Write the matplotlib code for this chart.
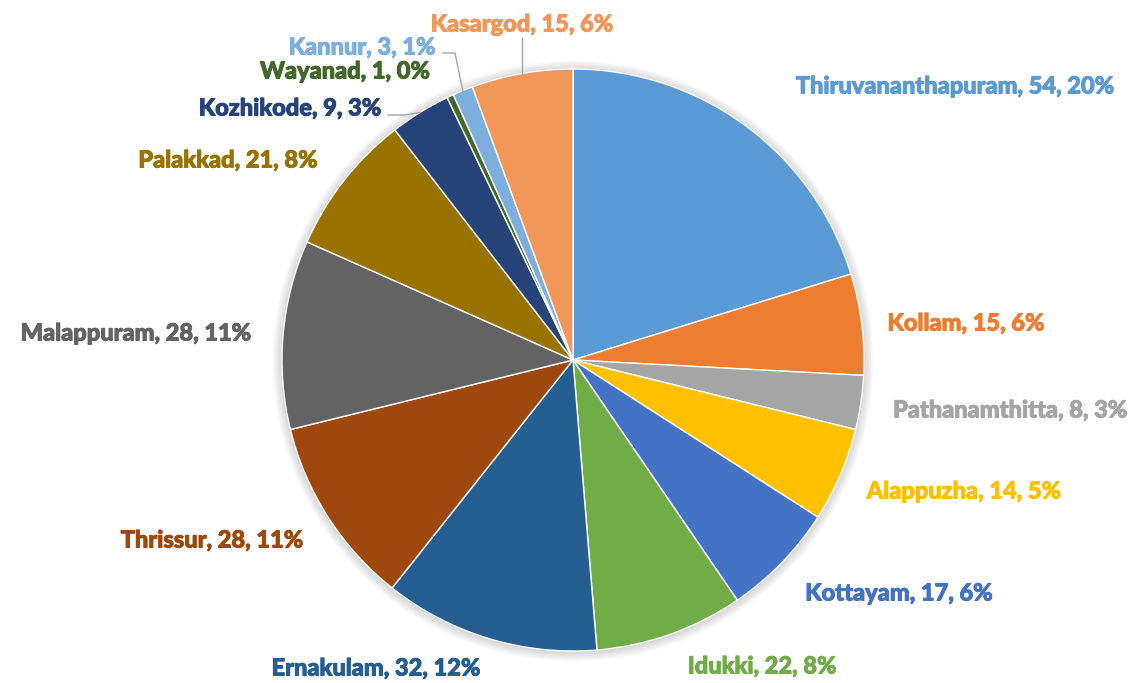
import numpy as np
import matplotlib.pyplot as plt
import matplotlib.patheffects as pe
from matplotlib.patches import Circle

districts = ["Thiruvananthapuram", "Kollam", "Pathanamthitta", "Alappuzha", "Kottayam",
             "Idukki", "Ernakulam", "Thrissur", "Malappuram", "Palakkad",
             "Kozhikode", "Wayanad", "Kannur", "Kasargod"]
counts = [54, 15, 8, 14, 17, 22, 32, 28, 28, 21, 9, 1, 3, 15]
pct_labels = ["20%", "6%", "3%", "5%", "6%", "8%", "12%", "11%", "11%", "8%",
              "3%", "0%", "1%", "6%"]
colors = ["#5B9BD5", "#ED7D31", "#A5A5A5", "#FFC000", "#4472C4",
          "#70AD47", "#255E91", "#9E480E", "#636363", "#997300",
          "#264478", "#43682B", "#7CAFDD", "#F1975A"]

# label centres in pixels (from top-left of the image)
label_pos = [(955, 86), (966, 323), (1010, 410), (964, 491), (899, 593),
             (762, 666), (376, 668), (212, 540), (136, 333), (228, 160),
             (290, 108), (345, 71), (362, 47), (522, 24)]

W, H = 1136, 683
cx, cy, R = 573, H - 360, 291

fig = plt.figure(figsize=(W / 100, H / 100), dpi=100)
ax = fig.add_axes([0, 0, 1, 1])

# soft shadow
for i in range(8):
    ax.add_patch(Circle((cx, cy - 1), R + 1 + i * 1.2, color='black', alpha=0.018, lw=0, zorder=0))

wedges, _ = ax.pie(counts, colors=colors, startangle=90, counterclock=False,
                   center=(cx, cy), radius=R, frame=True,
                   wedgeprops=dict(edgecolor='white', linewidth=1.0))
ax.set_xlim(0, W)
ax.set_ylim(0, H)
ax.set_aspect('equal')
ax.axis('off')

for name, v, p, c, (px, py) in zip(districts, counts, pct_labels, colors, label_pos):
    ax.text(px, H - py, f"{name}, {v}, {p}", color=c, fontsize=17,
            fontweight=900, family=['Lato', 'DejaVu Sans'], ha='center', va='center',
            path_effects=[pe.Stroke(linewidth=0.7, foreground=c), pe.Normal()])

def edge_point(i):
    w = wedges[i]
    mid = np.deg2rad((w.theta1 + w.theta2) / 2)
    return cx + R * np.cos(mid), cy + R * np.sin(mid)

lc = '#A6A6A6'
# Kasargod
ex, ey = edge_point(13)
ax.plot([ex, ex], [H - 38, ey], color=lc, lw=1)
# Kannur
ex, ey = edge_point(12)
ax.plot([443, 455, ex], [H - 53, H - 53, ey], color=lc, lw=1)
# Kozhikode
ex, ey = edge_point(10)
ax.plot([388, 405, ex], [H - 115, H - 115, ey], color=lc, lw=1)

fig.savefig("out.png", dpi=100)
